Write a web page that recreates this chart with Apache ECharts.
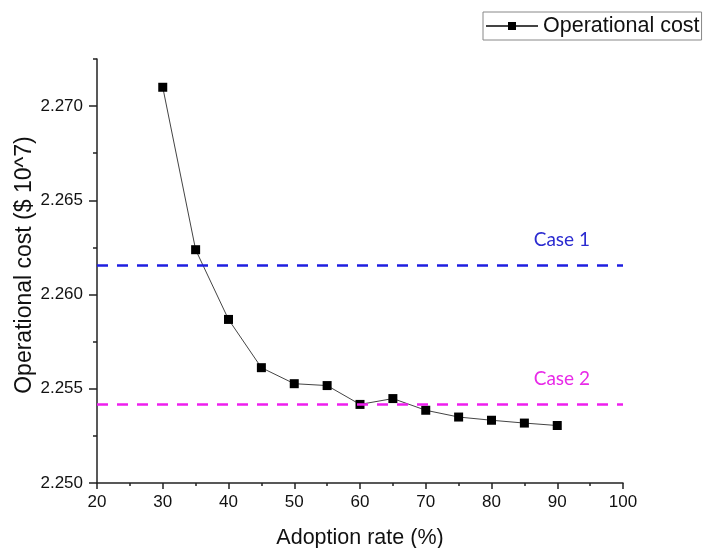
<!DOCTYPE html>
<html>
<head>
<meta charset="utf-8">
<script src="https://cdn.jsdelivr.net/npm/echarts@6/dist/echarts.min.js"></script>
<style>
html,body{margin:0;padding:0;background:#fff;}
#chart{width:707px;height:548px;}
</style>
</head>
<body>
<div id="chart"></div>
<script>
// ---- Data ----
const adoptionRates = [30, 35, 40, 45, 50, 55, 60, 65, 70, 75, 80, 85, 90];
const operationalCost = [2.2710, 2.26238, 2.25868, 2.25612, 2.25527, 2.25517, 2.25417, 2.25448, 2.25386, 2.25350, 2.25333, 2.25318, 2.25305];
const caseNames = ['Case 1', 'Case 2'];
const caseValues = [2.26155, 2.25416];
const yMajorTicks = [2.250, 2.255, 2.260, 2.265, 2.270];
const seriesName = 'Operational cost';
const xAxisTitle = 'Adoption rate (%)';
const yAxisTitle = 'Operational cost ($ 10^7)';

const caseLineColors = ['#1f1fe0', '#ee1fee'];
const caseTextColors = ['#2b2bd0', '#e82ae8'];

const chart = echarts.init(document.getElementById('chart'), null, {renderer: 'canvas'});
const axisCol = '#222';
const option = {
  animation: false,
  backgroundColor: '#ffffff',
  legend: {
    left: 483, top: 12,
    padding: [3, 2, 3, 2],
    borderColor: '#888', borderWidth: 1, borderRadius: 0,
    itemWidth: 52, itemHeight: 10, itemGap: 5,
    textStyle: {fontFamily: 'Liberation Sans', fontSize: 21.5, color: '#111'},
    data: [seriesName]
  },
  grid: {left: 97, right: 84, top: 59, bottom: 65, containLabel: false, outerBoundsMode: 'none'},
  xAxis: {
    type: 'value', min: 20, max: 100, interval: 10,
    name: xAxisTitle, nameLocation: 'middle', nameGap: 44,
    nameTextStyle: {fontFamily: 'Liberation Sans', fontSize: 21.5, color: '#111'},
    axisLine: {show: true, onZero: false, lineStyle: {color: axisCol, width: 1.5}},
    axisTick: {show: true, length: 6, lineStyle: {color: axisCol, width: 1.5}},
    minorTick: {show: true, splitNumber: 2, length: 3, lineStyle: {color: axisCol, width: 1.5}},
    axisLabel: {fontFamily: 'Liberation Sans', fontSize: 17, color: '#111', margin: 11},
    splitLine: {show: false}
  },
  yAxis: [{
    type: 'value', min: 2.25, max: 2.2725,
    name: yAxisTitle, nameLocation: 'middle', nameGap: 61, nameMoveOverlap: false,
    nameTextStyle: {fontFamily: 'Liberation Sans', fontSize: 23, color: '#111', padding: [0, 0, 0, 12]},
    axisLine: {show: true, onZero: false, lineStyle: {color: axisCol, width: 1.5}},
    axisTick: {show: true, length: 8, customValues: yMajorTicks, lineStyle: {color: axisCol, width: 1.5}},
    axisLabel: {fontFamily: 'Liberation Sans', fontSize: 17, color: '#111', margin: 14,
      customValues: yMajorTicks, formatter: v => v.toFixed(3)},
    splitLine: {show: false}
  }, {
    type: 'value', min: 2.25, max: 2.2725, interval: 0.0025, position: 'left',
    axisLine: {show: false},
    axisTick: {show: true, length: 4, lineStyle: {color: axisCol, width: 1.5}},
    axisLabel: {show: false},
    splitLine: {show: false}
  }],
  series: [{
    name: seriesName,
    type: 'line',
    yAxisIndex: 0,
    data: adoptionRates.map((x, i) => [x, operationalCost[i]]),
    symbol: 'rect', symbolSize: 9,
    itemStyle: {color: '#000'},
    lineStyle: {color: '#444', width: 1},
    markLine: {
      silent: true, symbol: 'none', precision: 6,
      data: caseValues.map((v, i) => ({
        yAxis: v,
        lineStyle: {color: caseLineColors[i], type: [11, 9], width: 2.5},
        label: {show: true, formatter: caseNames[i], position: 'insideEndTop', distance: [33, 16],
          color: caseTextColors[i], fontFamily: 'Lato', fontSize: 19}
      }))
    }
  }]
};
chart.setOption(option);
</script>
</body>
</html>
